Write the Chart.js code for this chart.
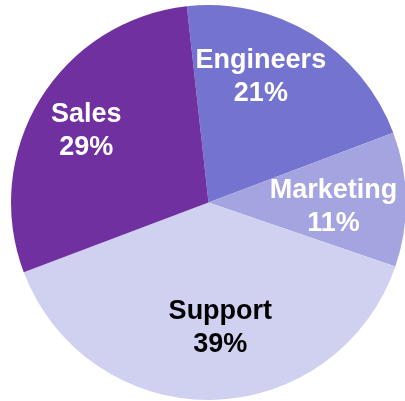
<!DOCTYPE html>
<html>
<head>
<meta charset="utf-8">
<title>Headcount by team</title>
<script src="https://cdn.jsdelivr.net/npm/chart.js@4"></script>
<style>
  html, body { margin: 0; padding: 0; background: #fff; overflow: hidden; }
  #wrap { width: 410px; height: 401px; }
</style>
</head>
<body>
<div id="wrap"><canvas id="pie" width="410" height="401"></canvas></div>
<script>
// Team split, clockwise from the top
const teams = ['Engineers', 'Marketing', 'Support', 'Sales'];
const shares = [21, 11, 39, 29];
const sliceColors = ['#7474d0', '#a4a4e0', '#d0d0f0', '#7030a0'];
const labelColors = ['#ffffff', '#ffffff', '#000000', '#ffffff'];

// In-slice labels: radius fraction and angle nudge (degrees) per slice
const sliceLabels = {
  id: 'sliceLabels',
  afterDatasetsDraw(chart, args, opts) {
    const meta = chart.getDatasetMeta(0);
    const values = chart.data.datasets[0].data;
    const total = values.reduce((a, b) => a + b, 0);
    const ctx = chart.ctx;
    ctx.save();
    ctx.font = opts.font;
    ctx.textAlign = 'center';
    ctx.textBaseline = 'middle';
    meta.data.forEach((arc, i) => {
      const p = arc.getProps(['x', 'y', 'startAngle', 'endAngle', 'outerRadius'], true);
      const place = opts.placement[i];
      const mid = (p.startAngle + p.endAngle) / 2 + place.nudge * Math.PI / 180;
      const r = p.outerRadius * place.r;
      const cx = p.x + Math.cos(mid) * r;
      const cy = p.y + Math.sin(mid) * r;
      const pct = Math.round(values[i] / total * 100) + '%';
      ctx.fillStyle = labelColors[i];
      ctx.fillText(chart.data.labels[i], cx, cy - opts.lineHeight / 2);
      ctx.fillText(pct, cx, cy + opts.lineHeight / 2);
    });
    ctx.restore();
  },
};

new Chart(document.getElementById('pie'), {
  type: 'pie',
  data: {
    labels: teams,
    datasets: [{
      data: shares,
      backgroundColor: sliceColors,
      borderWidth: 0,
    }],
  },
  options: {
    responsive: false,
    animation: false,
    rotation: -6.3,
    layout: { padding: { left: 11, right: 4, top: 5, bottom: 1 } },
    plugins: {
      legend: { display: false },
      tooltip: { enabled: false },
      sliceLabels: {
        font: 'bold 27px "Liberation Sans", Arial, sans-serif',
        lineHeight: 33,
        placement: [
          { r: 0.69, nudge: -8.9 },
          { r: 0.633, nudge: 2.8 },
          { r: 0.638, nudge: -4.5 },
          { r: 0.717, nudge: -1.1 },
        ],
      },
    },
  },
  plugins: [sliceLabels],
});
</script>
</body>
</html>
